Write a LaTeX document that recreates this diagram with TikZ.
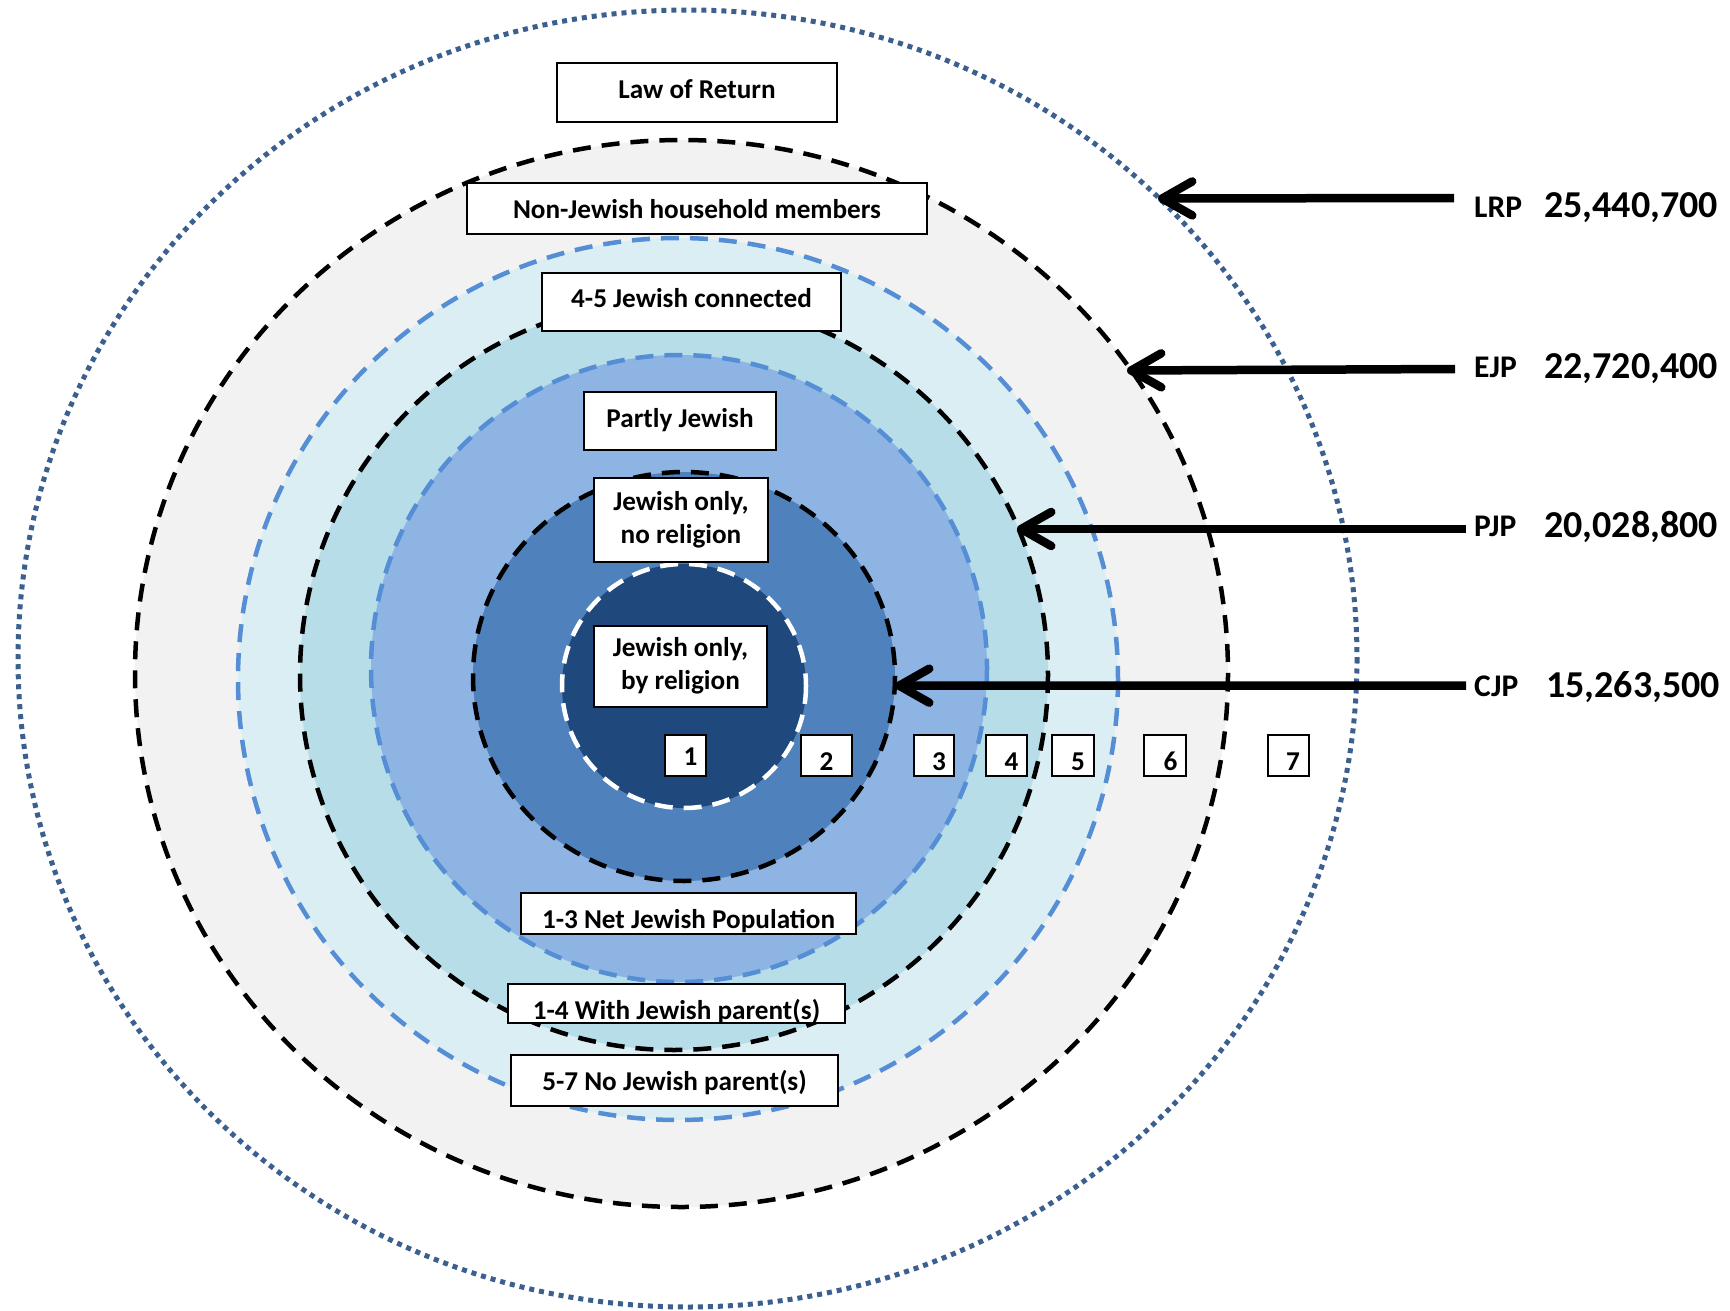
\documentclass[tikz,border=0pt]{standalone}
\usepackage{fontspec}
\newfontfamily\calfont{Carlito}
\usetikzlibrary{arrows.meta,calc}
\definecolor{navyfill}{HTML}{1F497D}
\definecolor{midblue}{HTML}{4F81BD}
\definecolor{softblue}{HTML}{8EB4E3}
\definecolor{tealfill}{HTML}{B7DEE8}
\definecolor{paleblue}{HTML}{DBEEF4}
\definecolor{greyfill}{HTML}{F2F2F2}
\definecolor{blueline}{HTML}{558ED5}
\definecolor{dotline}{HTML}{3B5F8F}
\begin{document}
\begin{tikzpicture}[x=1pt,y=-1pt,
  blackdash/.style={draw=black, line width=4.5pt, dash pattern=on 18pt off 11pt},
  bluedash/.style={draw=blueline, line width=4.5pt, dash pattern=on 18pt off 11pt},
  whitedash/.style={draw=white, line width=4.5pt, dash pattern=on 18pt off 11pt},
  dotring/.style={draw=dotline, line width=5pt, dash pattern=on 5pt off 5pt},
  lbl/.style={draw=black, fill=white, line width=2pt, inner sep=0pt,
    font=\calfont\bfseries\fontsize{27.2}{33}\selectfont, text depth=0pt},
  lbltwo/.style={draw=black, fill=white, line width=2pt, inner sep=0pt, align=center,
    font=\calfont\bfseries\fontsize{27.2}{33}\selectfont},
  numbox/.style={draw=black, fill=white, line width=2pt, inner sep=0pt, minimum height=41pt},
  digit/.style={inner sep=0pt, anchor=base, font=\calfont\bfseries\fontsize{27.2}{33}\selectfont},
  abbr/.style={inner sep=0pt, anchor=base west, font=\calfont\bfseries\fontsize{31.5}{36}\selectfont},
  popnum/.style={inner sep=0pt, anchor=base west, font=\calfont\bfseries\fontsize{38}{44}\selectfont},
  arr/.style={line width=8.5pt, -{Straight Barb[length=30pt,width=34pt,round]}}
]
\useasboundingbox (0,0) rectangle (1730,1311);
\fill[white] (0,0) rectangle (1730,1311);

% rings
\draw[dotring] (687.5,658.5) ellipse [x radius=669.5, y radius=648.5];
\filldraw[fill=greyfill, blackdash] (681.5,673.5) ellipse [x radius=546.5, y radius=533.5];
\filldraw[fill=paleblue, bluedash] (678,679) ellipse [x radius=440, y radius=441];
\filldraw[fill=tealfill, blackdash] (674,675) ellipse [x radius=374, y radius=375];
\filldraw[fill=softblue, bluedash] (679,668.5) ellipse [x radius=308, y radius=313.5];
\filldraw[fill=midblue, blackdash] (684,676.5) ellipse [x radius=211, y radius=204.5];
\filldraw[fill=navyfill, whitedash] (684,686) ellipse [x radius=122, y radius=122];

% labelled boxes
\node[lbl, minimum width=280pt, minimum height=59pt, text height=13pt] (law) at (697,92.5) {Law of Return};
\node[lbl, minimum width=460pt, minimum height=51pt, text height=19pt] (nonj) at (697,208.5) {Non-Jewish household members};
\node[lbl, minimum width=299pt, minimum height=58pt, text height=10pt] (conn) at (691.5,302) {4-5 Jewish connected};
\node[lbl, minimum width=192pt, minimum height=58pt, text height=12pt] (part) at (680,421) {Partly Jewish};
\node[lbltwo, minimum width=174pt, minimum height=84pt] (norel) at (681,520) {Jewish only,\\no religion};
\node[lbltwo, minimum width=173pt, minimum height=81pt] (byrel) at (680.5,666) {Jewish only,\\by religion};
\node[lbl, minimum width=335pt, minimum height=41pt, text height=29pt] (net) at (688.5,913.5) {1-3 Net Jewish Population};
\node[lbl, minimum width=337pt, minimum height=39pt, text height=31pt] (withp) at (676.5,1003.5) {1-4 With Jewish parent(s)};
\node[lbl, minimum width=327pt, minimum height=51pt, text height=19pt] (nop) at (674.5,1080.5) {5-7 No Jewish parent(s)};

% numbered boxes
\node[numbox, minimum width=41pt] (n1) at (685.5,755.5) {};
\node[numbox, minimum width=51pt] (n2) at (826.5,755.5) {};
\node[numbox, minimum width=40pt] (n3) at (934,755.5) {};
\node[numbox, minimum width=41pt] (n4) at (1006.5,755.5) {};
\node[numbox, minimum width=42pt] (n5) at (1073,755.5) {};
\node[numbox, minimum width=42pt] (n6) at (1165,755.5) {};
\node[numbox, minimum width=41pt] (n7) at (1288.5,755.5) {};
\node[digit] (d1) at ($(n1.center)+(5,9.5)$) {1};
\node[digit] (d2) at ($(n2.center)+(0,15)$) {2};
\node[digit] (d3) at ($(n3.center)+(5,15)$) {3};
\node[digit] (d4) at ($(n4.center)+(5,15)$) {4};
\node[digit] (d5) at ($(n5.center)+(5,15)$) {5};
\node[digit] (d6) at ($(n6.center)+(5.5,15)$) {6};
\node[digit] (d7) at ($(n7.center)+(4.5,15)$) {7};

% right labels
\node[abbr] (lrp) at (1474,217) {LRP};
\node[popnum] (lrpn) at (1544,217.5) {25,440,700};
\node[abbr] (ejp) at (1474,377) {EJP};
\node[popnum] (ejpn) at (1544,378) {22,720,400};
\node[abbr] (pjp) at (1474,536) {PJP};
\node[popnum] (pjpn) at (1544,537) {20,028,800};
\node[abbr] (cjp) at (1474,696) {CJP};
\node[popnum] (cjpn) at (1546,697) {15,263,500};

% arrows
\coordinate (sL) at (1454,198);   \coordinate (tL) at (1158,198.5);
\coordinate (sE) at (1455,369);   \coordinate (tE) at (1127,370.5);
\coordinate (sP) at (1466,529);   \coordinate (tP) at (1017,529);
\coordinate (sC) at (1466,685.5); \coordinate (tC) at (895,685.7);
\draw[arr] (sL) -- (tL);
\draw[arr] (sE) -- (tE);
\draw[arr] (sP) -- (tP);
\draw[arr] (sC) -- (tC);
\end{tikzpicture}
\end{document}
